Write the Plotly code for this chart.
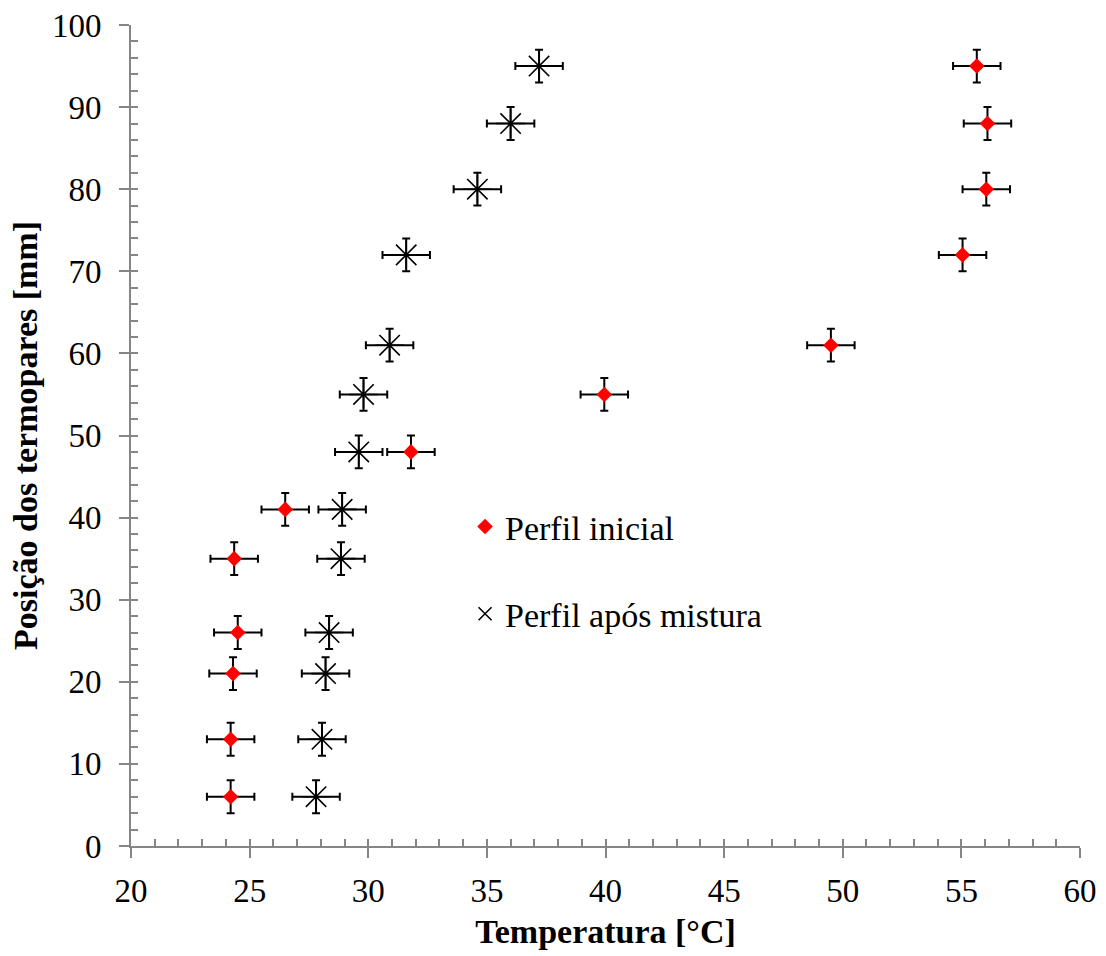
import plotly.graph_objects as go

# Thermocouple positions along the tank height [mm]
pos_mm = [6, 13, 21, 26, 35, 41, 48, 55, 61, 72, 80, 88, 95]

# Measured temperatures [°C]
temp_inicial = [24.2, 24.2, 24.3, 24.5, 24.35, 26.5, 31.8, 39.95, 49.5, 55.05, 56.05, 56.1, 55.65]
temp_mistura = [27.8, 28.05, 28.2, 28.35, 28.85, 28.9, 29.6, 29.8, 30.9, 31.6, 34.6, 36.0, 37.2]

# Measurement uncertainties
err_temp = 1.0   # °C
err_pos = 2.0    # mm

SERIF = "'Liberation Serif', 'Times New Roman', 'DejaVu Serif', serif"
AXIS_GREY = "#868686"

fig = go.Figure()

err_x = dict(type="constant", value=err_temp, color="black", thickness=2, width=4)
err_y = dict(type="constant", value=err_pos, color="black", thickness=2, width=4)

fig.add_trace(go.Scatter(
    x=temp_inicial, y=pos_mm, mode="markers", showlegend=False,
    marker=dict(symbol="diamond", size=12, color="#ff0000", line=dict(width=0)),
    error_x=err_x, error_y=err_y,
))
fig.add_trace(go.Scatter(
    x=temp_mistura, y=pos_mm, mode="markers", showlegend=False,
    marker=dict(symbol="asterisk-open", size=24, color="black",
                line=dict(color="black", width=1.6)),
    error_x=err_x, error_y=err_y,
))

# legend entries
fig.add_trace(go.Scatter(
    x=[None], y=[None], mode="markers", name="Perfil inicial", legendgroup="a",
    marker=dict(symbol="diamond", size=12, color="#ff0000", line=dict(width=0)),
))
fig.add_trace(go.Scatter(
    x=[None], y=[None], mode="markers", name="Perfil após mistura", legendgroup="b",
    marker=dict(symbol="x-thin-open", size=13, color="black",
                line=dict(color="black", width=1.6)),
))

# carrier for the inner (minor) tick axes
fig.add_trace(go.Scatter(x=[None], y=[None], xaxis="x2", yaxis="y2",
                         showlegend=False, hoverinfo="skip"))

tick_font = dict(family=SERIF, size=33, color="black")
title_font = dict(family=SERIF, size=34, color="black", weight="bold")

fig.update_layout(
    width=1106, height=956,
    margin=dict(l=131, r=26, t=25, b=108),
    paper_bgcolor="white", plot_bgcolor="white",
    font=dict(family=SERIF, color="black"),
    xaxis=dict(
        range=[20, 60], dtick=5, tick0=20,
        showgrid=False, zeroline=False, automargin="height",
        showline=True, linecolor=AXIS_GREY, linewidth=2,
        ticks="outside", ticklen=10, tickwidth=1.5, tickcolor=AXIS_GREY,
        tickfont=tick_font, ticklabelstandoff=4,
        title=dict(text="Temperatura [°C]", font=title_font, standoff=12),
    ),
    yaxis=dict(
        range=[0, 100], dtick=10, tick0=0,
        showgrid=False, zeroline=False, automargin="width",
        showline=True, linecolor=AXIS_GREY, linewidth=2,
        ticks="outside", ticklen=10, tickwidth=1.5, tickcolor=AXIS_GREY,
        tickfont=tick_font, ticklabelstandoff=11,
        title=dict(text="Posição dos termopares [mm]", font=title_font, standoff=4),
    ),
    xaxis2=dict(
        range=[20, 60], dtick=1, tick0=20, overlaying="x", anchor="y2",
        showgrid=False, zeroline=False, showline=False, showticklabels=False,
        ticks="inside", ticklen=7, tickwidth=1.5, tickcolor=AXIS_GREY,
    ),
    yaxis2=dict(
        range=[0, 100], dtick=2, tick0=0, overlaying="y", anchor="x2",
        showgrid=False, zeroline=False, showline=False, showticklabels=False,
        ticks="inside", ticklen=7, tickwidth=1.5, tickcolor=AXIS_GREY,
    ),
    legend=dict(
        x=0.352, y=0.424, xanchor="left", yanchor="top",
        font=dict(family=SERIF, size=34, color="black"),
        bgcolor="rgba(0,0,0,0)", borderwidth=0,
        traceorder="grouped", tracegroupgap=40, itemwidth=30,
    ),
)

fig.write_html("out.html")
